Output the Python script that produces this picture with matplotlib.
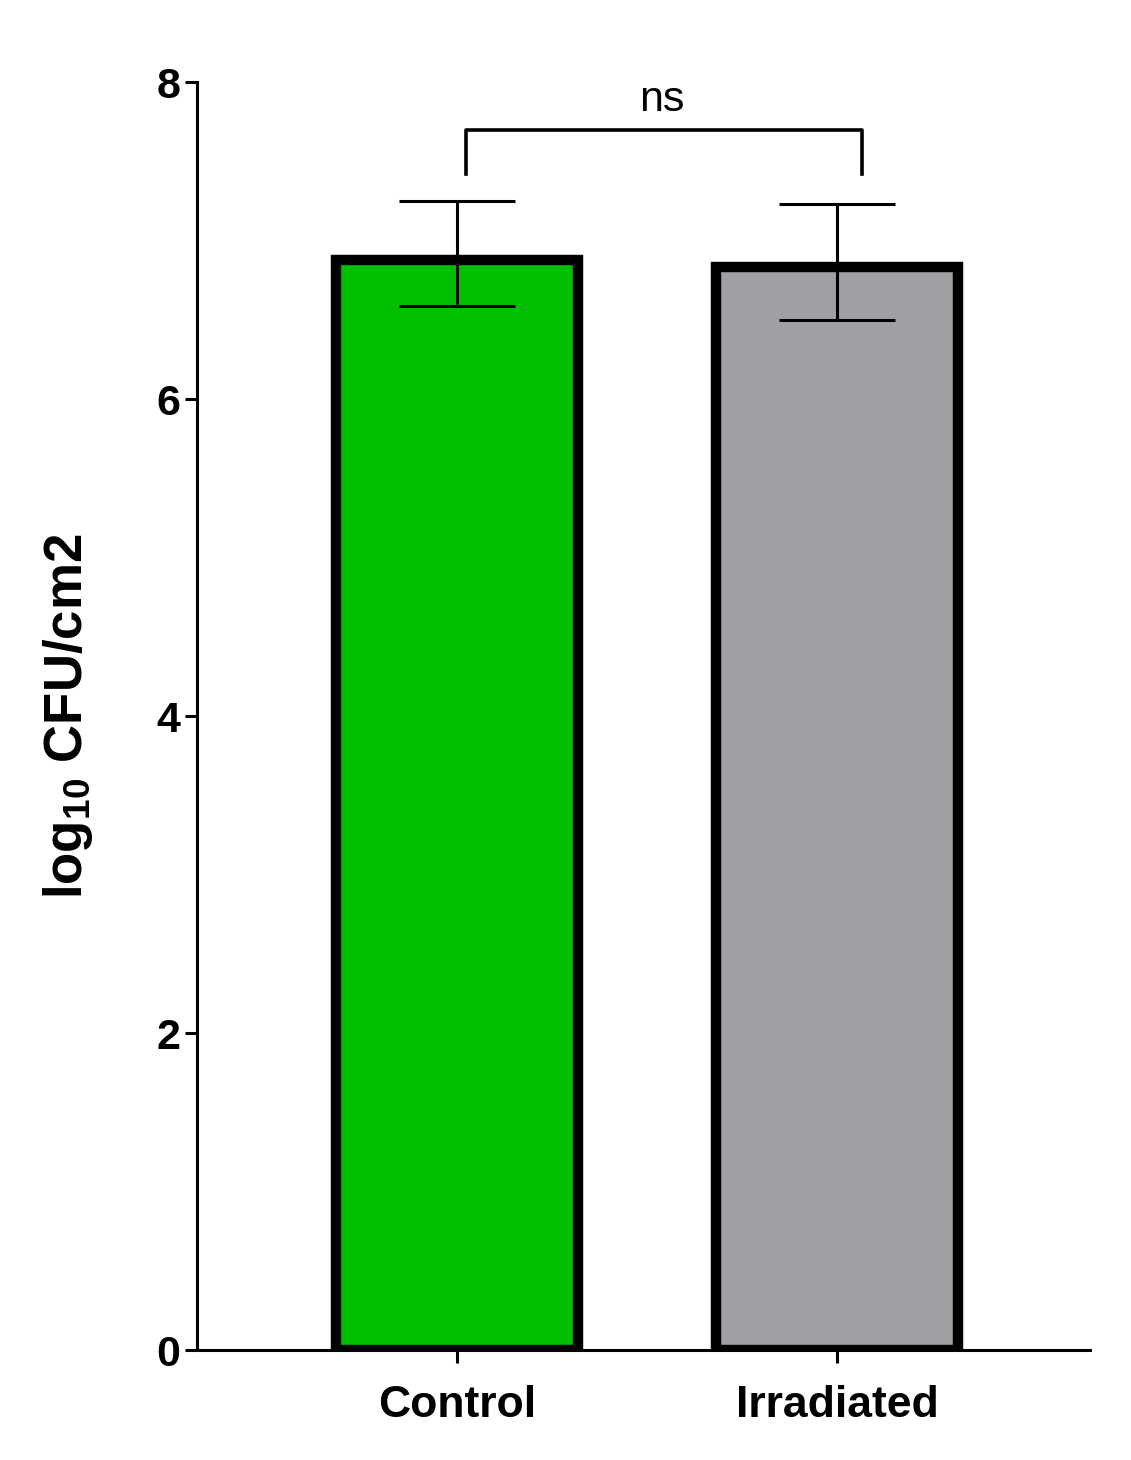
import numpy as np
import matplotlib.pyplot as plt

plt.rcParams['font.family'] = ['Liberation Sans', 'DejaVu Sans']
plt.rcParams['mathtext.fontset'] = 'custom'
plt.rcParams['mathtext.rm'] = 'Liberation Sans'
plt.rcParams['mathtext.bf'] = 'Liberation Sans:bold'

groups = ['Control', 'Irradiated']
means = [6.88, 6.83]
err_low = [0.29, 0.33]
err_high = [0.37, 0.40]
colors = ['#00BF00', '#A0A0A4']

fig = plt.figure(figsize=(11.31, 14.6), dpi=100)
ax = fig.add_axes([0.174, 0.0753, 0.79, 0.8685])

x = np.arange(len(groups))
ax.bar(x, means, width=0.635, color=colors, edgecolor='black', linewidth=7.5, zorder=2)
ax.errorbar(x, means, yerr=[err_low, err_high], fmt='none', ecolor='black',
            elinewidth=2.2, capsize=42, capthick=2.2, zorder=3)

# significance bracket
bx0, bx1 = 0.024, 1.066
ax.plot([bx0, bx0, bx1, bx1], [7.42, 7.70, 7.70, 7.42], color='black', lw=2.6,
        clip_on=False, zorder=3)
ax.text((bx0 + bx1) / 2 - 0.005, 7.76, 'ns', ha='center', va='bottom', fontsize=31)

ax.set_xlim(-0.684, 1.666)
ax.set_ylim(0, 8)
ax.set_yticks([0, 2, 4, 6, 8])
ax.set_xticks(x)
ax.set_xticklabels(groups, fontsize=32, fontweight='bold')
for lab in ax.get_yticklabels():
    lab.set_fontsize(31)
    lab.set_fontweight('bold')

ax.spines['top'].set_visible(False)
ax.spines['right'].set_visible(False)
ax.spines['left'].set_linewidth(2.2)
ax.spines['bottom'].set_linewidth(2.2)
ax.tick_params(axis='y', length=9, width=2.2, pad=3)
ax.tick_params(axis='x', length=9, width=2.2, pad=16)

ax.set_ylabel(r'$\mathbf{log_{10}}$ CFU/cm2', fontsize=38, fontweight='bold', labelpad=44)

fig.savefig('out.png', dpi=100)
